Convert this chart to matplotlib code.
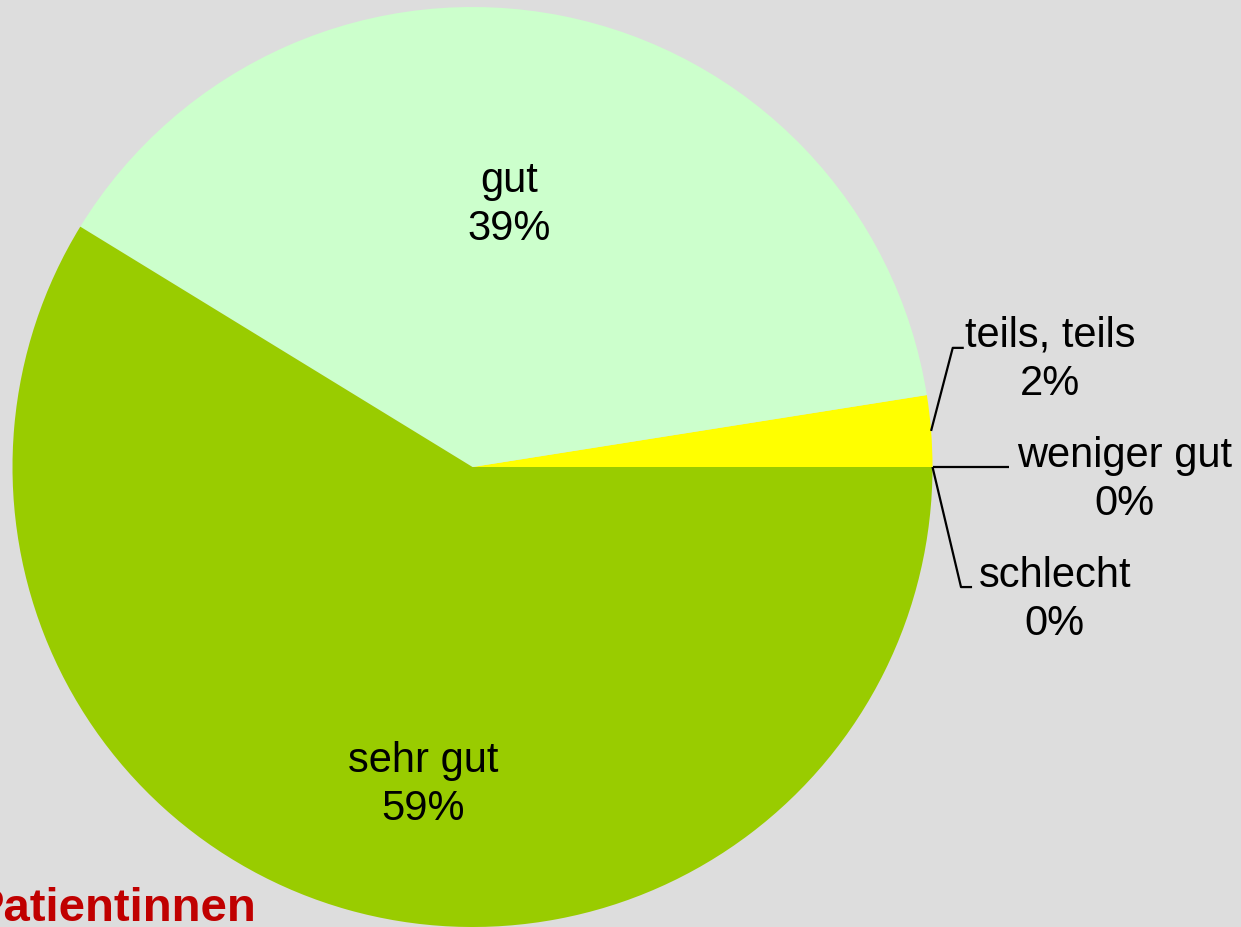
import numpy as np
import matplotlib
matplotlib.use('Agg')
import matplotlib.pyplot as plt

plt.rcParams['font.family'] = ['Liberation Sans', 'DejaVu Sans']

# counts, counter-clockwise from 3 o'clock
categories = ['schlecht', 'weniger gut', 'teils, teils', 'gut', 'sehr gut']
counts = [0, 0, 2, 31, 47]
pct_labels = ['0%', '0%', '2%', '39%', '59%']
colors = ['#ff9900', '#ff0000', '#ffff00', '#ccffcc', '#99cc00']
title = 'Patientinnen'


def main():
    W, H = 1241, 927
    fig = plt.figure(figsize=(W / 100, H / 100), dpi=100)
    fig.set_facecolor('#dddddd')

    cx, cy, r = 472.5, 467, 460
    ax = fig.add_axes([(cx - r) / W, (H - cy - r) / H, 2 * r / W, 2 * r / H])
    ax.set_facecolor('#dddddd')
    ax.axis('off')

    wedges, _ = ax.pie(counts, colors=colors, startangle=0, counterclock=True,
                       radius=1, wedgeprops=dict(linewidth=0))
    ax.set_xlim(-1, 1)
    ax.set_ylim(-1, 1)
    ax.set_aspect('equal')

    fs = 30
    ls = 1.27
    # inside labels for the big slices
    inside_pos = {'gut': (0.079, 0.570), 'sehr gut': (-0.108, -0.691)}
    # outside labels with leader lines: (label centre, knee, end)
    outside = {
        'teils, teils': ((1.255, 0.233), (1.044, 0.259), (1.068, 0.259)),
        'weniger gut': ((1.418, -0.028), None, (1.166, 0.0)),
        'schlecht': ((1.266, -0.289), (1.062, -0.261), (1.086, -0.261)),
    }

    for w, cat, pl in zip(wedges, categories, pct_labels):
        text = cat + '\n' + pl
        if cat in inside_pos:
            x, y = inside_pos[cat]
            ax.text(x, y, text, ha='center', va='center', fontsize=fs,
                    linespacing=ls)
        else:
            mid = np.deg2rad((w.theta1 + w.theta2) / 2)
            sx, sy = np.cos(mid), np.sin(mid)
            (lx, ly), knee, end = outside[cat]
            xs, ys = [sx], [sy]
            if knee is not None:
                xs.append(knee[0]); ys.append(knee[1])
            xs.append(end[0]); ys.append(end[1])
            ax.plot(xs, ys, color='black', lw=1.6, clip_on=False,
                    solid_capstyle='butt')
            ax.text(lx, ly, text, ha='center', va='center', fontsize=fs,
                    linespacing=ls)

    # title partly outside the left edge, as in the source picture
    fig.text(-27 / W, (H - 921) / H, title, ha='left', va='baseline',
             fontsize=34, fontweight='bold', color='#c00000')

    fig.savefig('out.png', dpi=100, facecolor=fig.get_facecolor())


if __name__ == '__main__': main()
